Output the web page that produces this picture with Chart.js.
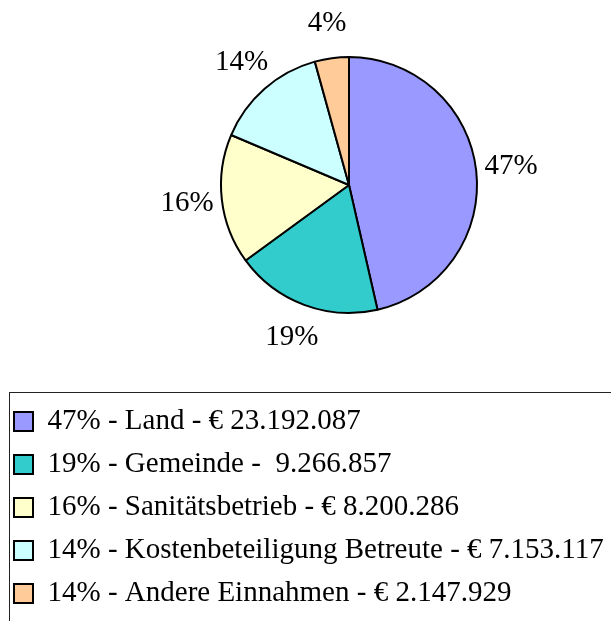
<!DOCTYPE html>
<html>
<head>
<meta charset="utf-8">
<script src="https://cdn.jsdelivr.net/npm/chart.js@4/dist/chart.umd.min.js"></script>
<style>
body { margin: 0; background: #fff; }
#wrap { width: 611px; height: 621px; position: relative; }
</style>
</head>
<body>
<div id="wrap"><canvas id="myChart"></canvas></div>
<script>
// legend texts, amounts (EUR) and slice labels
var categories = [
  "47% - Land - \u20AC 23.192.087",
  "19% - Gemeinde -  9.266.857",
  "16% - Sanit\u00E4tsbetrieb - \u20AC 8.200.286",
  "14% - Kostenbeteiligung Betreute - \u20AC 7.153.117",
  "14% - Andere Einnahmen - \u20AC 2.147.929"
];
var amounts = [23192087, 9266857, 8200286, 7153117, 2147929];
var sliceLabels = ["47%", "19%", "16%", "14%", "4%"];
var colors = ["#9999ff", "#33cccc", "#ffffcc", "#ccffff", "#ffcc99"];

var FONT = "'Liberation Serif', 'Times New Roman', serif";

// put the pie where it sits in the original
var placePie = {
  id: "placePie",
  afterLayout: function(chart){
    var a = chart.chartArea;
    var cx = 349, cy = 185, h = 150;
    a.left = cx - h; a.right = cx + h;
    a.top = cy - h; a.bottom = cy + h;
    a.width = 2*h; a.height = 2*h;
  }
};

// percent labels outside the slices
var sliceText = {
  id: "sliceText",
  afterDatasetsDraw: function(chart){
    var ctx = chart.ctx;
    var arcs = chart.getDatasetMeta(0).data;
    ctx.save();
    ctx.font = "29px " + FONT;
    ctx.fillStyle = "#000";
    ctx.textAlign = "center";
    ctx.textBaseline = "middle";
    arcs.forEach(function(arc, i){
      var p = arc.getProps(["x","y","startAngle","endAngle","outerRadius"], true);
      var mid = (p.startAngle + p.endAngle) / 2;
      var r = p.outerRadius + 35;
      ctx.fillText(sliceLabels[i], p.x + Math.cos(mid)*r, p.y + Math.sin(mid)*r);
    });
    ctx.restore();
  }
};

// frame round the legend
var legendFrame = {
  id: "legendFrame",
  afterDraw: function(chart){
    var ctx = chart.ctx;
    ctx.save();
    ctx.strokeStyle = "#222";
    ctx.lineWidth = 1;
    ctx.strokeRect(9.5, 392.5, 700, 300);
    ctx.restore();
  }
};

var ctx = document.getElementById("myChart");
var pieChart = new Chart(ctx, {
  type: "pie",
  data: {
    labels: categories,
    datasets: [{
      data: amounts,
      backgroundColor: colors,
      borderColor: "#000",
      borderWidth: 2,
      radius: 128
    }]
  },
  options: {
    responsive: true,
    maintainAspectRatio: false,
    animation: false,
    layout: { padding: { bottom: 3 } },
    plugins: {
      tooltip: { enabled: false },
      legend: {
        position: "bottom",
        align: "start",
        labels: {
          color: "#000",
          font: { family: FONT, size: 29 },
          boxWidth: 19,
          boxHeight: 19,
          padding: 14
        }
      }
    }
  },
  plugins: [placePie, sliceText, legendFrame]
});
</script>
</body>
</html>
